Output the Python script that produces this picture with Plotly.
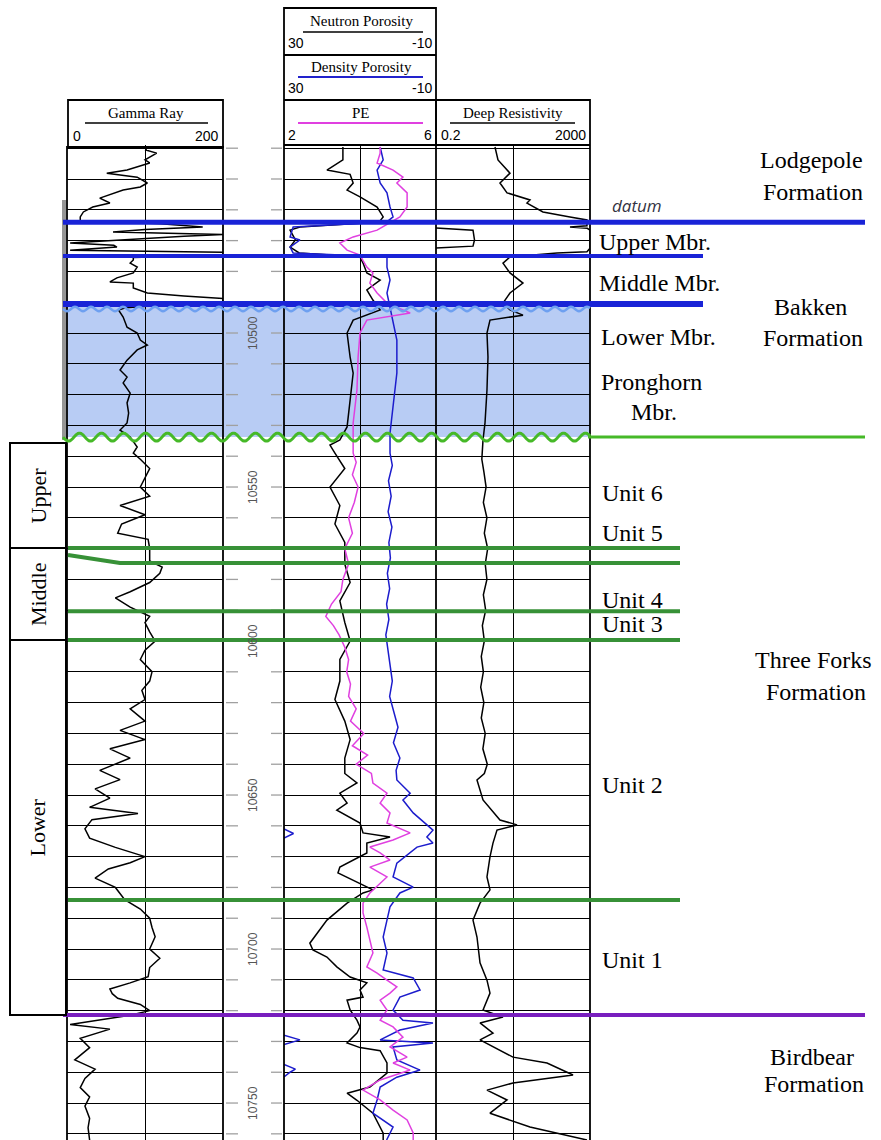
import numpy as np
import plotly.graph_objects as go

W, H = 881, 1140

# ---------------- data ----------------
gr_depth = [10439.6, 10440.6, 10441.6, 10443.8, 10444.8, 10447.1, 10448.1, 10449.4, 10451.3, 10452.6,
            10453.6, 10455.2, 10456.2, 10457.8, 10459.1, 10460.7, 10462.3, 10463.5, 10464.5, 10465.6,
            10466.4, 10467.2, 10468.0, 10468.6, 10469.8, 10470.8, 10471.5, 10472.1, 10473.1, 10473.8,
            10474.7, 10475.5, 10476.3, 10477.3, 10478.6, 10480.5, 10482.1, 10483.4, 10483.8, 10485.4,
            10487.0, 10488.0, 10488.8, 10489.8, 10490.8, 10491.8, 10492.5, 10494.8, 10498.1, 10500.0,
            10502.3, 10503.9, 10505.5, 10508.8, 10512.0, 10514.3, 10516.2, 10519.5, 10522.7, 10526.0,
            10529.2, 10531.5, 10533.8, 10537.0, 10539.0, 10541, 10544, 10547, 10550, 10553,
            10556, 10559, 10562, 10565, 10567, 10570, 10574, 10576, 10578, 10581,
            10584, 10586, 10589, 10592, 10594, 10597, 10600, 10603, 10606, 10610,
            10613, 10616, 10619, 10622, 10626, 10629, 10632, 10635, 10638, 10642,
            10645, 10648, 10651, 10654, 10656, 10658, 10661, 10664, 10667, 10670,
            10672, 10674, 10677, 10680, 10684, 10687, 10690, 10693, 10696, 10700,
            10703, 10706, 10709, 10711, 10713, 10714.5, 10716, 10718, 10720, 10721.5,
            10723, 10724.5, 10726, 10729, 10732, 10736, 10739, 10742, 10745, 10748,
            10751, 10755, 10758, 10762]
gr_api = [103, 101, 115, 100, 106, 77, 51, 90, 103, 94,
          72, 55, 42, 55, 33, 21, 17, 17, 120, 174,
          100, 59, 200, 150, 68, 4, 60, 64, 4, 200,
          200, 85, 85, 81, 90, 85, 64, 55, 85, 85,
          103, 150, 200, 200, 130, 75, 66, 72, 77, 90,
          94, 103, 90, 77, 68, 77, 72, 81, 77, 79,
          77, 68, 81, 90, 85, 94, 106, 100, 94, 106,
          68, 100, 70, 65, 104, 106, 106, 122, 119, 106,
          81, 62, 81, 106, 100, 106, 113, 100, 94, 109,
          106, 96, 100, 81, 100, 68, 100, 55, 81, 42,
          68, 36, 55, 29, 91, 32, 23, 29, 62, 100,
          81, 53, 36, 62, 74, 94, 106, 109, 113, 106,
          119, 106, 104, 81, 55, 58, 65, 94, 106, 81,
          42, 4, 55, 17, 29, 10, 36, 23, 17, 29,
          23, 29, 27, 29]

nphi_depth = [10439.6, 10443.8, 10447.1, 10448.5, 10451.3, 10453.6, 10455.8, 10459.1, 10462.3, 10464.0,
              10465.6, 10466.6, 10469.8, 10472.1, 10474.0, 10475.3, 10477.3, 10480.5, 10482.8, 10486.0,
              10489.3, 10492.5, 10495.8, 10500.0, 10507.8, 10513.0, 10521.8, 10530.5, 10534.7, 10536.4,
              10539, 10544, 10550, 10556, 10562, 10568, 10575, 10581, 10587, 10594,
              10600, 10606, 10613, 10619, 10626, 10632, 10638, 10643, 10646.1, 10649.4,
              10652.6, 10654.9, 10659.1, 10662.3, 10663.6, 10665.6, 10668.8, 10673.4, 10675.3, 10678.6,
              10680.8, 10681.8, 10685.1, 10690.6, 10694.8, 10698.1, 10700.3, 10702.6, 10705.8, 10709.1,
              10711.0, 10713.3, 10715.6, 10716.6, 10719.8, 10723.1, 10725.3, 10727.3, 10730.5, 10732.0,
              10733.0, 10737.0, 10740.3, 10744.8, 10746.8, 10749.1, 10753.3, 10757.9, 10759.8, 10762]
nphi_pct = [14.5, 14.5, 18.7, 12.6, 11.8, 13.4, 10.0, 5.5, 3.9, 5.0,
            25.8, 28.4, 27.0, 28.4, 26.0, 10.0, 9.2, 8.2, 4.7, 8.2,
            6.6, 4.7, 11.8, 13.4, 12.6, 11.8, 12.6, 13.4, 15.3, 17.9,
            16.6, 14.0, 17.9, 15.3, 16.6, 14.0, 14.0, 12.6, 15.3, 14.0,
            12.6, 15.3, 15.3, 16.6, 14.0, 12.6, 14.0, 14.0, 10.8, 15.3,
            13.4, 16.1, 10.0, 9.2, 2.1, 8.2, 8.2, 15.3, 15.8, 10.0,
            6.6, 9.2, 13.4, 18.7, 21.3, 23.2, 22.4, 18.7, 16.1, 12.6,
            8.2, 10.0, 9.2, 13.4, 12.6, 10.8, 10.0, 10.8, 13.4, 10.0,
            4.7, 2.9, 2.9, 7.4, 13.4, 10.8, 6.6, 4.7, 3.9, 3.9]

dphi_depth = [10439.6, 10443.8, 10447.1, 10451.3, 10454.5, 10459.1, 10462.3, 10464.0, 10465.6, 10468.8,
              10469.8, 10472.1, 10474.0, 10475.3, 10478.6, 10482.8, 10487.0, 10491.6, 10495.8, 10502.3,
              10513.0, 10524.0, 10532.5, 10539.0, 10543, 10548, 10553, 10558, 10563, 10568,
              10573, 10578, 10583, 10588, 10593, 10598, 10603, 10608, 10613, 10618,
              10623, 10628, 10633, 10638, 10642, 10645.1, 10649.4, 10651.6, 10655.8, 10661.4,
              10663.6, 10665.6, 10666.9, 10672.1, 10676.6, 10679.9, 10681.8, 10686.3, 10690.6, 10696.1,
              10701.3, 10706.8, 10709.4, 10713.3, 10715.6, 10719.8, 10723.1, 10724.0, 10726.3, 10729.5,
              10730.5, 10731.8, 10736.0, 10739.3, 10741.6, 10744.8, 10749.0, 10753.3, 10757.8, 10762]
dphi_pct = [4.7, 3.9, 5.5, 4.7, 2.9, 2.1, 1.3, 3.0, 27.6, 28.4,
            25.8, 28.4, 27.6, 2.9, 2.9, 2.1, 2.9, 2.1, 1.3, 0.3,
            0.3, 1.3, 2.1, 2.1, 1.5, 2.5, 1.8, 2.6, 1.6, 2.4,
            2.0, 2.8, 2.2, 3.0, 2.4, 3.2, 2.6, 2.0, 1.5, 2.2,
            1.0, 0.0, 1.2, -0.5, 0.5, 0.3, -3.2, -1.3, -4.0, -9.2,
            -7.6, -9.2, -5.0, 0.3, 1.3, -4.0, -0.5, 2.1, 2.9, 3.9,
            2.9, 3.9, -4.0, -5.8, -0.5, 1.3, -1.3, -9.2, -0.5, 4.7,
            -9.2, 1.3, 0.3, -5.8, 0.3, 4.7, 5.5, 6.6, 1.3, 3.0]

# density porosity wrapping past the right edge of the scale
dwrap_depth = [10661.0, 10662.5, 10664.0, None, 10728.0, 10729.5, 10731.0, None,
               10737.5, 10739.0, 10740.0, 10741.5]
dwrap_pct = [30.0, 27.5, 30.0, None, 30.0, 25.8, 30.0, None, 30.0, 27.0, 28.4, 30.0]

pe_depth = [10439.6, 10441.6, 10444.8, 10447.1, 10449.4, 10451.3, 10454.5, 10459.1, 10462.3, 10464.0,
            10466.6, 10468.8, 10470.8, 10473.1, 10474.7, 10476.5, 10478.6, 10480.5, 10483.8, 10487.0,
            10490.3, 10493.5, 10495.8, 10500.0, 10507.8, 10518.5, 10529.2, 10539.0, 10542, 10546,
            10550, 10555, 10560, 10565, 10570, 10575, 10580, 10584, 10588, 10592,
            10595, 10598, 10602, 10606, 10610, 10614, 10618, 10622, 10626, 10630,
            10634, 10637, 10640, 10643, 10646.1, 10649.4, 10652.6, 10655.8, 10659.1, 10662.3,
            10664.6, 10666.9, 10668.8, 10671.1, 10673.4, 10676.6, 10678.6, 10681.8, 10685.1, 10688.3,
            10692.9, 10697.1, 10701.3, 10705.8, 10707.8, 10710.1, 10712.3, 10714.3, 10716.6, 10719.8,
            10723.1, 10725.3, 10728.6, 10731.8, 10735.1, 10737.0, 10739.3, 10742.5, 10745.8, 10749.0,
            10752.3, 10755.5, 10759.7, 10762]
pe_bn = [4.53, 4.53, 4.45, 4.87, 5.13, 4.97, 5.24, 5.24, 5.05, 4.80,
         4.45, 3.82, 3.47, 3.66, 4.00, 4.08, 4.18, 4.34, 4.26, 4.45,
         4.71, 5.32, 4.18, 4.00, 3.95, 3.92, 3.82, 3.82, 3.90, 3.80,
         3.95, 3.85, 3.70, 3.80, 3.60, 3.70, 3.55, 3.50, 3.25, 3.10,
         3.30, 3.45, 3.60, 3.70, 3.65, 3.75, 3.70, 3.90, 3.75, 4.10,
         3.80, 4.20, 3.90, 4.30, 4.34, 4.71, 4.53, 4.79, 4.71, 5.32,
         4.87, 4.26, 4.53, 4.79, 4.26, 4.71, 4.53, 4.26, 4.08, 4.08,
         4.18, 4.26, 4.34, 4.18, 4.45, 4.71, 4.97, 4.79, 4.53, 4.71,
         4.53, 4.87, 5.13, 4.79, 5.24, 4.87, 5.32, 4.53, 4.08, 4.53,
         4.87, 5.24, 5.40, 5.40]

res_depth = [10439.6, 10443.8, 10448.1, 10451.3, 10454.5, 10456.8, 10457.8, 10460.7, 10462.3, 10463.3,
             10465.2, 10465.6, 10466.0, 10466.6, 10472.5, 10473.6, 10474.0, 10475.3, 10477.3, 10480.5,
             10483.8, 10487.0, 10490.3, 10492.5, 10494.2, 10495.8, 10500.0, 10507.8, 10518.5, 10529.2,
             10534.7, 10541, 10545, 10550, 10555, 10560, 10565, 10570, 10575, 10580,
             10585, 10590, 10595, 10600, 10605, 10610, 10615, 10620, 10625, 10630,
             10635, 10640, 10643, 10645.1, 10651.6, 10658.1, 10659.7, 10661.4, 10665.6, 10670.1,
             10676.6, 10680.8, 10685.1, 10690.6, 10696.1, 10704.5, 10710.1, 10714.3, 10719.8, 10722.1,
             10724.0, 10727.3, 10729.5, 10735.1, 10737.0, 10740.9, 10743.5, 10745.8, 10749.0, 10753.3,
             10757.8, 10762.0]
res_ohmm = [6.81, 8.15, 16.7, 9.18, 14.0, 55.2, 46.1, 120, 604, 1668,
            1668, 604, 1700, 2000, 2000, 1668, 278, 16.7, 11.0, 16.7,
            36.3, 16.7, 11.0, 16.7, 36.3, 5.05, 4.22, 4.48, 4.22, 3.75,
            3.33, 3.1, 3.5, 4.0, 3.4, 4.2, 3.6, 4.4, 3.8, 4.2,
            3.4, 3.9, 3.2, 3.6, 3.0, 3.4, 2.9, 3.5, 3.0, 3.8,
            3.3, 4.3, 3.6, 2.32, 3.33, 9.18, 25.4, 7.68, 6.04, 5.05,
            4.22, 5.05, 2.78, 1.83, 2.32, 2.78, 4.22, 5.05, 3.33, 11.0,
            2.78, 6.04, 2.78, 20.0, 153, 723, 20.0, 4.22, 14.0, 5.05,
            55.2, 1668]

# resistivity wrapping past 2000 ohm-m (drawn from the left edge)
rwrap_depth = [10465.9, 10466.6, 10469.8, 10471.8, 10472.4]
rwrap_ohmm = [0.2, 1.83, 2.0, 1.83, 0.2]

depth_labels = [10500, 10550, 10600, 10650, 10700, 10750]

# formation / unit tops (ft)
datum_top = 10464.0
upper_mbr_base = 10475.0
middle_mbr_base = 10490.6
three_forks_top = 10533.8
unit5_top = 10569.8
unit5_base = 10574.7
unit3_top = 10590.3
unit3_base = 10599.7
unit1_top = 10684.1
birdbear_top = 10721.4
tf_upper_box = [10535.7, 10569.8]
tf_middle_box = [10569.8, 10599.7]
tf_lower_box = [10599.7, 10721.4]

# ---------------- layout helpers ----------------
D_TOP, D_BOT = 10438.96, 10762.0
Y_TOP_PX, Y_BOT_PX = 145, 1140


def xp(p):
    return p / W


def yp(p):
    return 1 - p / H


def dpx(d):
    return Y_TOP_PX + (d - D_TOP) / (D_BOT - D_TOP) * (Y_BOT_PX - Y_TOP_PX)


GR_X = (67, 223)
DEP_X = (223, 284)
PE_X = (284, 436)
RES_X = (436, 590)

fig = go.Figure()

fig.add_trace(go.Scatter(x=gr_api, y=gr_depth, xaxis='x', yaxis='y', mode='lines',
                         line=dict(color='black', width=1.5), showlegend=False))
fig.add_trace(go.Scatter(x=nphi_pct, y=nphi_depth, xaxis='x2', yaxis='y', mode='lines',
                         line=dict(color='black', width=1.5), showlegend=False))
fig.add_trace(go.Scatter(x=pe_bn, y=pe_depth, xaxis='x3', yaxis='y', mode='lines',
                         line=dict(color='#e040e0', width=1.5), showlegend=False))
fig.add_trace(go.Scatter(x=dphi_pct, y=dphi_depth, xaxis='x2', yaxis='y', mode='lines',
                         line=dict(color='#1c1ccc', width=1.5), showlegend=False))
fig.add_trace(go.Scatter(x=dwrap_pct, y=dwrap_depth, xaxis='x2', yaxis='y', mode='lines',
                         line=dict(color='#1c1ccc', width=1.5), showlegend=False, connectgaps=False))
fig.add_trace(go.Scatter(x=res_ohmm, y=res_depth, xaxis='x4', yaxis='y', mode='lines',
                         line=dict(color='black', width=1.5), showlegend=False))
fig.add_trace(go.Scatter(x=rwrap_ohmm, y=rwrap_depth, xaxis='x4', yaxis='y', mode='lines',
                         line=dict(color='black', width=1.5), showlegend=False))

shapes = []
annotations = []


def pline(x0, y0, x1, y1, color='black', width=2):
    shapes.append(dict(type='line', xref='paper', yref='paper', x0=xp(x0), y0=yp(y0),
                       x1=xp(x1), y1=yp(y1), line=dict(color=color, width=width)))


def dline(x0, x1, depth, color, width):
    shapes.append(dict(type='line', xref='paper', yref='y', x0=xp(x0), x1=xp(x1),
                       y0=depth, y1=depth, line=dict(color=color, width=width)))


def wavy(x0, x1, depth, amp, period, color, width):
    xs = np.arange(x0, x1 + 0.5, 1.0)
    yc = dpx(depth)
    ys = yc + amp * np.sin(2 * np.pi * (xs - x0) / period)
    path = 'M ' + ' L '.join(f'{xp(a):.5f},{yp(b):.5f}' for a, b in zip(xs, ys))
    shapes.append(dict(type='path', xref='paper', yref='paper', path=path,
                       line=dict(color=color, width=width)))


def prect(x0, y0, x1, y1, color='black', width=1.8, fill=None):
    shapes.append(dict(type='rect', xref='paper', yref='paper', x0=xp(x0), y0=yp(y0),
                       x1=xp(x1), y1=yp(y1), line=dict(color=color, width=width),
                       fillcolor=fill or 'rgba(0,0,0,0)'))


def text(x, y, s, size=14, family='Liberation Serif', anchor='center', color='black',
         angle=0, italic=False, yref='paper'):
    if italic:
        s = f'<i>{s}</i>'
    annotations.append(dict(x=xp(x), y=(yp(y) if yref == 'paper' else y), xref='paper', yref=yref,
                            text=s, showarrow=False, xanchor=anchor, yanchor='middle',
                            textangle=angle, font=dict(size=size, family=family, color=color)))


# shading of Lower Bakken / Pronghorn interval (below gridlines)
shapes.append(dict(type='rect', xref='paper', yref='y', x0=xp(63), x1=xp(590),
                   y0=middle_mbr_base, y1=three_forks_top, layer='below',
                   fillcolor='rgb(184,204,244)', line=dict(width=0)))

# gray strip at left of Bakken
shapes.append(dict(type='rect', xref='paper', yref='paper', x0=xp(62), x1=xp(66),
                   y0=yp(200), y1=yp(440), fillcolor='rgb(150,150,150)', line=dict(width=0),
                   layer='below'))

# track borders
for xb in (GR_X[0], GR_X[1], PE_X[0], PE_X[1], RES_X[1]):
    pline(xb, 146, xb, 1140, 'black', 1.8)

# depth track small tick marks
for d in range(10440, 10762, 10):
    shapes.append(dict(type='line', xref='paper', yref='y', x0=xp(226), x1=xp(238), y0=d, y1=d,
                       line=dict(color='#a0a0a0', width=1.3)))
    shapes.append(dict(type='line', xref='paper', yref='y', x0=xp(271), x1=xp(282), y0=d, y1=d,
                       line=dict(color='#a0a0a0', width=1.3)))
for d in depth_labels:
    text(253, d, str(d), size=12, family='Liberation Sans', color='#555555', angle=-90, yref='y')

# ---- headers ----
prect(68, 100, 223, 147)
text(146, 113, 'Gamma Ray', size=15)
pline(85, 123, 208, 123, 'black', 1.5)
text(71, 136, '0', size=14, family='Liberation Sans', anchor='left')
text(221, 136, '200', size=14, family='Liberation Sans', anchor='right')

prect(284, 8, 436, 145)
pline(284, 55, 436, 55, 'black', 1.8)
pline(284, 100, 436, 100, 'black', 1.8)
text(361, 21, 'Neutron Porosity', size=15)
pline(303, 32, 423, 32, 'black', 1.5)
text(286, 43, '30', size=14, family='Liberation Sans', anchor='left')
text(434, 43, '-10', size=14, family='Liberation Sans', anchor='right')
text(361, 67, 'Density Porosity', size=15)
pline(298, 77, 423, 77, '#2222cc', 2)
text(286, 88, '30', size=14, family='Liberation Sans', anchor='left')
text(434, 88, '-10', size=14, family='Liberation Sans', anchor='right')
text(361, 113, 'PE', size=15)
pline(298, 123, 423, 123, '#e040e0', 2)
text(286, 135, '2', size=14, family='Liberation Sans', anchor='left')
text(434, 135, '6', size=14, family='Liberation Sans', anchor='right')

prect(436, 100, 590, 145)
text(513, 113, 'Deep Resistivity', size=15)
pline(450, 123, 575, 123, 'black', 1.5)
text(439, 135, '0.2', size=14, family='Liberation Sans', anchor='left')
text(588, 135, '2000', size=14, family='Liberation Sans', anchor='right')

# ---- formation boundaries ----
BLUE = 'rgb(25,35,215)'
dline(63, 865, datum_top, BLUE, 5)
dline(63, 703, upper_mbr_base, BLUE, 4)
dline(63, 703, middle_mbr_base, BLUE, 6)
wavy(63, 590, middle_mbr_base + 1.6, 2.2, 16, 'rgb(110,160,240)', 2.5)
wavy(63, 590, three_forks_top, 4, 22, 'rgb(70,185,40)', 3)
dline(588, 865, three_forks_top, 'rgb(70,185,40)', 3)
GREEN = 'rgb(55,145,55)'
dline(68, 680, unit5_top, GREEN, 4)
shapes.append(dict(type='path', xref='paper', yref='paper',
                   path=f'M {xp(68)},{yp(dpx(unit5_base) - 8)} L {xp(120)},{yp(dpx(unit5_base))} '
                        f'L {xp(680)},{yp(dpx(unit5_base))}',
                   line=dict(color=GREEN, width=4)))
dline(68, 680, unit3_top, GREEN, 4)
dline(68, 680, unit3_base, GREEN, 4)
dline(68, 680, unit1_top, GREEN, 4)
dline(63, 865, birdbear_top, 'rgb(120,30,190)', 4)

# ---- Three Forks member boxes ----
for (t, b), lab in ((tf_upper_box, 'Upper'), (tf_middle_box, 'Middle'), (tf_lower_box, 'Lower')):
    shapes.append(dict(type='rect', xref='paper', yref='y', x0=xp(10), x1=xp(66), y0=t, y1=b,
                       line=dict(color='black', width=2), fillcolor='white'))
    text(38, (t + b) / 2, lab, size=22, angle=-90, yref='y')

# ---- right-hand labels ----
FS = 24
text(811, 160, 'Lodgepole', size=FS)
text(813, 192, 'Formation', size=FS)
text(637, 205, 'datum', size=17, family='Open Sans', color='#333344', italic=True)
text(597, 242, 'Upper Mbr.', size=FS, anchor='left')
text(597, 283, 'Middle Mbr.', size=FS, anchor='left')
text(810, 307, 'Bakken', size=FS)
text(599, 337, 'Lower Mbr.', size=FS, anchor='left')
text(813, 338, 'Formation', size=FS)
text(599, 382, 'Pronghorn', size=FS, anchor='left')
text(654, 412, 'Mbr.', size=FS)
text(600, 493, 'Unit 6', size=FS, anchor='left')
text(600, 533, 'Unit 5', size=FS, anchor='left')
text(600, 600, 'Unit 4', size=FS, anchor='left')
text(600, 624, 'Unit 3', size=FS, anchor='left')
text(813, 660, 'Three Forks', size=FS)
text(816, 692, 'Formation', size=FS)
text(600, 785, 'Unit 2', size=FS, anchor='left')
text(600, 960, 'Unit 1', size=FS, anchor='left')
text(812, 1057, 'Birdbear', size=FS)
text(814, 1084, 'Formation', size=FS)

ydom = [0, 1 - Y_TOP_PX / H]
common = dict(showticklabels=False, ticks='', zeroline=False, showline=False,
              gridcolor='black', gridwidth=1.3)
fig.update_layout(
    width=W, height=H, margin=dict(l=0, r=0, t=0, b=0),
    paper_bgcolor='white', plot_bgcolor='rgba(0,0,0,0)', showlegend=False,
    yaxis=dict(domain=ydom, range=[D_BOT, D_TOP], tick0=10440, dtick=10, showgrid=True, **common),
    xaxis=dict(domain=[xp(GR_X[0]), xp(GR_X[1])], range=[0, 200], dtick=100, tick0=0,
               showgrid=True, anchor='y', **common),
    xaxis2=dict(domain=[xp(PE_X[0]), xp(PE_X[1])], range=[30, -10], dtick=20, tick0=10,
                showgrid=True, anchor='y', **common),
    xaxis3=dict(overlaying='x2', range=[2, 6], showgrid=False, visible=False, anchor='y'),
    xaxis4=dict(domain=[xp(RES_X[0]), xp(RES_X[1])], type='log',
                range=[np.log10(0.2), np.log10(2000)], dtick=2, tick0=np.log10(0.2),
                showgrid=True, anchor='y', **common),
    shapes=shapes, annotations=annotations,
)

fig.write_html('out.html', config={'displayModeBar': False})

# remove the default page margin so the figure sits at the window origin
with open('out.html', encoding='utf-8') as f:
    html = f.read()
html = html.replace('<head>', '<head><style>html,body{margin:0;padding:0;overflow:hidden;}</style>', 1)
with open('out.html', 'w', encoding='utf-8') as f:
    f.write(html)
